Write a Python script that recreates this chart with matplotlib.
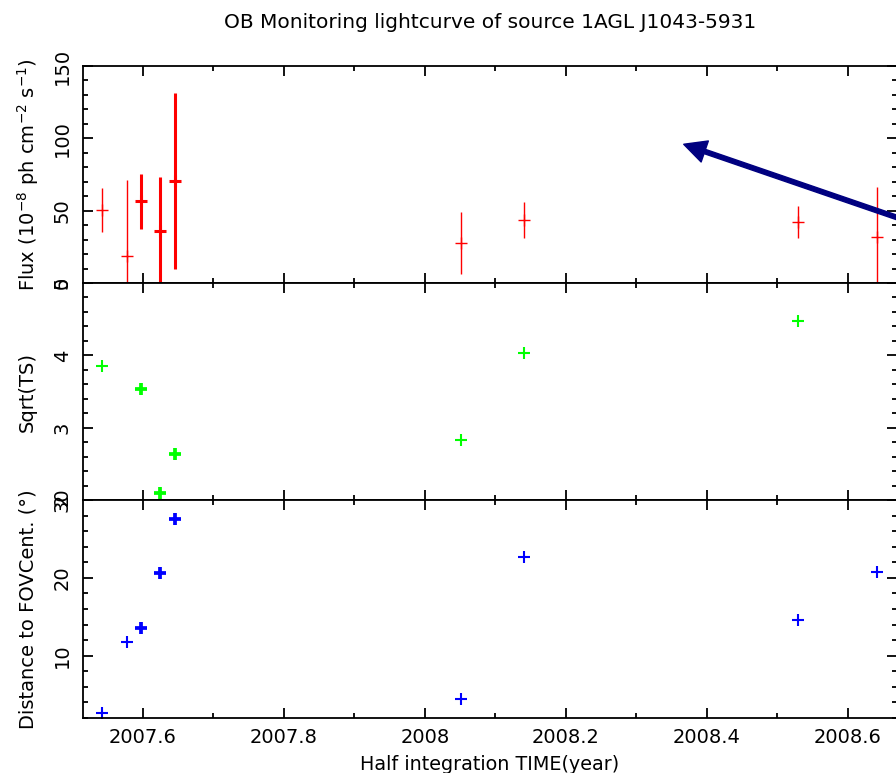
import matplotlib
matplotlib.use("Agg")
import matplotlib.pyplot as plt
from matplotlib.ticker import MultipleLocator
import numpy as np

# observation times (half integration time, in years)
time = [2007.5415, 2007.577, 2007.597, 2007.624, 2007.646,
        2008.051, 2008.141, 2008.529, 2008.641]

# flux in 1e-8 ph cm^-2 s^-1 and its 1-sigma error
flux = [50.5, 19.0, 56.5, 36.0, 70.5, 27.5, 43.5, 42.0, 31.5]
flux_err = [15.0, 52.0, 19.0, 37.0, 61.0, 21.5, 12.5, 11.0, 35.0]

# sqrt(TS); nan where the value is below the plotted range
sqrt_ts = [3.85, np.nan, 3.53, 2.10, 2.64, 2.83, 4.03, 4.47, np.nan]

# angular distance of the source to the FOV centre (deg)
dist = [2.7, 11.7, 13.5, 20.6, 27.6, 4.5, 22.7, 14.6, 20.8]

# thicker crosses for the crowded points
lw = [1.0, 1.0, 2.2, 2.2, 2.2, 1.0, 1.0, 1.0, 1.0]

W, H = 896, 773
fig = plt.figure(figsize=(W / 100, H / 100), dpi=100)

left = 83 / W
width = (897 - 83) / W


def panel(top_px, bot_px, sharex=None):
    return fig.add_axes([left, 1 - bot_px / H, width, (bot_px - top_px) / H],
                        sharex=sharex)


ax1 = panel(66, 283)
ax2 = panel(283, 500, sharex=ax1)
ax3 = panel(500, 718, sharex=ax1)

for ax in (ax1, ax2, ax3):
    ax.tick_params(which='both', direction='in', top=True, right=True,
                   width=1.3, colors='black')
    ax.tick_params(which='major', length=7)
    ax.tick_params(which='minor', length=3.5)
    ax.tick_params(axis='y', labelrotation=90, labelsize=14, pad=8)
    ax.tick_params(axis='x', labelsize=14, pad=7)
    ax.xaxis.set_major_locator(MultipleLocator(0.2))
    ax.xaxis.set_minor_locator(MultipleLocator(0.1))
    for s in ax.spines.values():
        s.set_linewidth(1.3)

ax1.set_xlim(2007.515, 2008.6695)
ax1.tick_params(axis='x', labelbottom=False)
ax2.tick_params(axis='x', labelbottom=False)

# flux with error bars
for i in range(len(time)):
    ax1.errorbar(time[i], flux[i], yerr=flux_err[i], fmt='+', color='red',
                 ms=8, mew=lw[i], elinewidth=lw[i], capsize=0)
ax1.set_ylim(0, 150)
ax1.yaxis.set_major_locator(MultipleLocator(50))
ax1.yaxis.set_minor_locator(MultipleLocator(10))
ax1.set_ylabel(r'Flux (10$^{-8}$ ph cm$^{-2}$ s$^{-1}$)', fontsize=14)

ax1.annotate('', xy=(2008.367, 95.9), xytext=(2008.72, 36.8),
             arrowprops=dict(width=3.2, headwidth=16, headlength=16,
                             color='#000080', shrink=0),
             annotation_clip=False)

# significance
for i in range(len(time)):
    ax2.plot(time[i], sqrt_ts[i], '+', color='#00ff00', ms=8, mew=lw[i] + 0.5)
ax2.set_ylim(2, 5)
ax2.yaxis.set_major_locator(MultipleLocator(1))
ax2.yaxis.set_minor_locator(MultipleLocator(0.2))
ax2.set_ylabel('Sqrt(TS)', fontsize=14)

# distance to FOV centre
for i in range(len(time)):
    ax3.plot(time[i], dist[i], '+', color='blue', ms=8, mew=lw[i] + 0.5)
ax3.set_ylim(2, 30)
ax3.yaxis.set_major_locator(MultipleLocator(10))
ax3.yaxis.set_minor_locator(MultipleLocator(2))
ax3.set_ylabel('Distance to FOVCent. (°)', fontsize=14)
ax3.set_xlabel('Half integration TIME(year)', fontsize=13.8, labelpad=6)
ax3.xaxis.set_major_formatter(plt.FuncFormatter(lambda v, p: f'{v:g}'))

# same column for all three y labels
for ax in (ax1, ax2, ax3):
    ax.yaxis.set_label_coords(-0.068, 0.5)
    ax.yaxis.label.set_va('center')
    for t in ax.get_yticklabels():
        t.set_va('center')

fig.text(490 / W, 1 - 22 / H, 'OB Monitoring lightcurve of source 1AGL J1043-5931',
         ha='center', va='center', fontsize=14.5)

fig.savefig('out.png', dpi=100)
